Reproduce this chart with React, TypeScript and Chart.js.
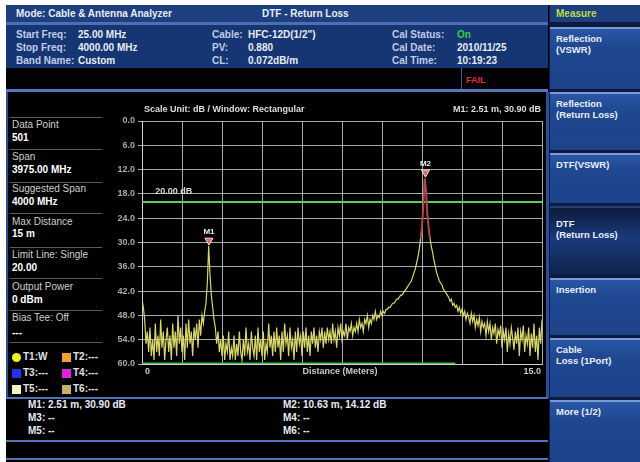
import React, { useEffect, useRef } from "react";
import { Chart, registerables } from "chart.js";

Chart.register(...registerables);

// ---------- DATA ----------
const DIST_STEP_M = 0.05; // trace sample spacing (m)
// Return loss trace (dB), 0.00 m .. 15.00 m
const RETURN_LOSS_DB = [
  44, 46, 49, 55, 52, 57,
  51, 58, 54, 59, 50, 57, 53, 58, 49, 56, 52, 59, 54, 51, 57,
  53, 59, 50, 56, 52, 58, 48, 55, 51, 57, 53, 59, 50, 56, 49, 55, 52, 58, 51, 54,
  50, 56, 49, 53, 48, 50, 47, 45, 40, 30.9, 38, 43, 46, 49, 51, 55, 52, 57, 54,
  58, 53, 59, 55, 57, 52, 59, 56, 58, 53, 59, 55, 58, 52, 57, 59, 54, 58, 51, 57, 55,
  59, 52, 56, 58, 53, 59, 51, 57, 54, 58, 52, 59, 55, 57, 50, 56, 53, 58, 52, 57,
  51, 56, 53, 59, 52, 57, 50, 55, 53, 58, 51, 56, 54, 59, 52, 57, 51, 55, 53, 58,
  52, 56, 51, 57, 53, 58, 52, 55, 51, 56, 53, 57, 52, 54, 51, 56, 52, 55, 51, 54,
  52, 55, 50, 54, 52, 56, 51, 53, 50, 54, 52, 53, 50, 54, 51, 52, 50, 53, 51, 52,
  50, 52, 49, 51, 50, 52, 49, 50, 48, 51, 49, 50, 48, 49, 47, 49, 48, 48.5, 47, 48,
  47, 47.5, 46.5, 46.5, 46, 46, 45.5, 45, 45, 44.5, 44, 44, 43.5, 43, 43, 42.5, 42, 41.5, 41, 40.5,
  40, 39.5, 38.5, 37.5, 36.5, 35, 33.5, 31.5, 29, 26, 21, 14.12,
  17, 23, 26.5, 29, 31, 32.5, 34.5, 36,
  37.5, 38.5, 39.5, 40, 40.5, 41.5, 42, 42.5, 43, 43.5, 44.5, 44, 45.5, 45, 46, 45.5, 47, 46, 47.5, 46.5,
  48, 47, 49, 47.5, 48.5, 50, 47.5, 49.5, 48, 51, 49, 50.5, 48.5, 52, 49.5, 51, 50, 53, 49.5, 52,
  50, 54, 51, 52.5, 50, 55, 51.5, 53, 50.5, 56, 52, 54, 51, 57, 52.5, 55, 51, 53.5, 56.5, 52,
  55, 51, 58, 52, 54, 50.5, 57, 53, 55, 51, 58, 52.5, 56, 50, 57, 53, 59, 51, 55, 49,
];
const X_MIN_M = 0;
const X_MAX_M = 15;
const Y_MIN_DB = 0;
const Y_MAX_DB = 60;
const Y_STEP_DB = 6;
const X_GRID_STEP_M = 1.5;
const LIMIT_DB = 20;
const SWEEP_END_M = 11.75;
const MARKER_NAMES = ["M1", "M2"];
const MARKER_DIST_M = [2.51, 10.63];
const MARKER_DB = [30.9, 14.12];

const LEFT_LABELS = ["Data Point", "Span", "Suggested Span", "Max Distance", "Limit Line: Single", "Output Power", "Bias Tee: Off"];
const LEFT_VALUES = ["501", "3975.00 MHz", "4000 MHz", "15 m", "20.00", "0 dBm", "---"];
const LEGEND_NAMES = ["T1:W", "T2:---", "T3:---", "T4:---", "T5:---", "T6:---"];
const LEGEND_COLORS = ["#f2f222", "#f0a032", "#2233f0", "#e022e0", "#f2f2c8", "#c8b064"];
const SOFTKEYS = ["Reflection\n(VSWR)", "Reflection\n(Return Loss)", "DTF(VSWR)", "DTF\n(Return Loss)", "Insertion", "Cable\nLoss (1Port)", "More (1/2)"];

const F = '"Liberation Sans", Arial, sans-serif';

function T(props: { x: number; y: number; c?: string; s?: number; b?: boolean; children: React.ReactNode }) {
  return (
    <div
      style={{
        position: "absolute",
        left: props.x,
        top: props.y - 6,
        height: 12,
        lineHeight: "12px",
        fontSize: props.s ?? 10,
        fontWeight: props.b === false ? 400 : 700,
        color: props.c ?? "#e8ecf4",
        fontFamily: F,
        whiteSpace: "pre",
      }}
    >
      {props.children}
    </div>
  );
}

function Box(props: { x: number; y: number; w: number; h: number; bg: string }) {
  return <div style={{ position: "absolute", left: props.x, top: props.y, width: props.w, height: props.h, background: props.bg }} />;
}

export default function App() {
  const ref = useRef<HTMLCanvasElement>(null);

  useEffect(() => {
    const canvas = ref.current!;
    const trace = RETURN_LOSS_DB.map((v, i) => ({ x: Math.round(i * DIST_STEP_M * 100) / 100, y: v }));

    const overlay = {
      id: "overlay",
      afterDatasetsDraw(chart: any) {
        const { ctx, chartArea, scales } = chart;
        const xs = scales.x;
        const ys = scales.y;
        ctx.save();
        ctx.font = `bold 9px ${F}`;
        ctx.textBaseline = "middle";
        ctx.fillStyle = "#d8d8d8";
        ctx.textAlign = "left";
        ctx.fillText(`${LIMIT_DB.toFixed(2)} dB`, xs.getPixelForValue(0.5), ys.getPixelForValue(LIMIT_DB) - 10);
        for (let i = 0; i < MARKER_NAMES.length; i++) {
          const px = xs.getPixelForValue(MARKER_DIST_M[i]);
          const py = ys.getPixelForValue(MARKER_DB[i]);
          ctx.beginPath();
          ctx.moveTo(px, py - 1);
          ctx.lineTo(px - 4, py - 8);
          ctx.lineTo(px + 4, py - 8);
          ctx.closePath();
          ctx.fillStyle = "#e06a6a";
          ctx.fill();
          ctx.strokeStyle = "#f4dada";
          ctx.lineWidth = 1;
          ctx.stroke();
          ctx.fillStyle = "#f0f0f0";
          ctx.textAlign = "center";
          ctx.font = `bold 8px ${F}`;
          ctx.fillText(MARKER_NAMES[i], px, py - 14);
          ctx.font = `bold 9px ${F}`;
        }
        ctx.fillStyle = "#dcdcdc";
        ctx.textAlign = "left";
        ctx.fillText("Scale Unit: dB / Window: Rectangular", chartArea.left + 2, chartArea.top - 11);
        ctx.textAlign = "right";
        ctx.fillText(
          `${MARKER_NAMES[0]}: ${MARKER_DIST_M[0].toFixed(2)} m, ${MARKER_DB[0].toFixed(2)} dB`,
          chartArea.right - 1,
          chartArea.top - 11
        );
        ctx.fillStyle = "#c8c8c8";
        ctx.textAlign = "left";
        ctx.fillText(String(X_MIN_M), chartArea.left + 3, chartArea.bottom + 8);
        ctx.textAlign = "right";
        ctx.fillText(X_MAX_M.toFixed(1), chartArea.right - 1, chartArea.bottom + 8);
        ctx.textAlign = "center";
        ctx.fillText("Distance (Meters)", (chartArea.left + chartArea.right) / 2 - 2, chartArea.bottom + 8);
        ctx.restore();
      },
    };

    const gridColor = "rgba(200,200,200,0.85)";
    const chart = new Chart(canvas, {
      type: "line",
      data: {
        datasets: [
          {
            label: "T1",
            data: trace,
            borderColor: "#d8d66a",
            borderWidth: 1.2,
            pointRadius: 0,
            tension: 0,
            segment: {
              borderColor: (c: any) =>
                c.p0.parsed.x > 9 && c.p0.parsed.y < 31 && c.p1.parsed.y < 31 ? "#b04446" : undefined,
              borderWidth: (c: any) =>
                c.p0.parsed.x > 9 && c.p0.parsed.y < 31 && c.p1.parsed.y < 31 ? 2 : undefined,
            },
          } as any,
          {
            label: "Limit",
            data: [
              { x: X_MIN_M, y: LIMIT_DB },
              { x: X_MAX_M, y: LIMIT_DB },
            ],
            borderColor: "#5fcf62",
            borderWidth: 2,
            pointRadius: 0,
          },
          {
            label: "Sweep",
            data: [
              { x: X_MIN_M, y: Y_MAX_DB },
              { x: SWEEP_END_M, y: Y_MAX_DB },
            ],
            borderColor: "#3fc046",
            borderWidth: 3,
            pointRadius: 0,
          },
        ],
      },
      options: {
        animation: false,
        responsive: false,
        maintainAspectRatio: false,
        events: [],
        layout: { padding: { top: 26, right: 6, left: 0, bottom: 0 } },
        plugins: { legend: { display: false }, tooltip: { enabled: false } },
        scales: {
          x: {
            type: "linear",
            min: X_MIN_M,
            max: X_MAX_M,
            ticks: { stepSize: X_GRID_STEP_M, display: false },
            grid: { color: gridColor, drawTicks: false },
            border: { color: "#d0d0d0" },
            afterFit: (s: any) => {
              s.height = 31;
            },
          },
          y: {
            type: "linear",
            min: Y_MIN_DB,
            max: Y_MAX_DB,
            reverse: true,
            ticks: {
              stepSize: Y_STEP_DB,
              color: "#a8a8a8",
              padding: 3,
              font: { size: 9, family: F, weight: "bold" },
              callback: (v: any) => Number(v).toFixed(1),
            },
            grid: { color: gridColor, tickLength: 4 },
            border: { color: "#d0d0d0" },
            afterFit: (s: any) => {
              s.width = 38;
            },
          },
        },
      },
      plugins: [overlay],
    } as any);
    return () => chart.destroy();
  }, []);

  const keyTops = [27, 92, 153, 206, 278, 338, 400];
  const keyBottoms = [89, 150, 203, 275, 335, 397, 462];

  return (
    <div style={{ position: "fixed", left: 0, top: 0, width: 640, height: 462, background: "#ffffff", overflow: "hidden", fontFamily: F }}>
      <Box x={6} y={5} w={634} h={457} bg="#000000" />
      <Box x={6} y={5} w={542} h={17} bg="#1d3f80" />
      <Box x={6} y={22} w={542} h={3} bg="#4d70b4" />
      <Box x={6} y={25} w={542} h={43} bg="#163673" />
      <Box x={6} y={68} w={542} h={21} bg="#020206" />
      <Box x={461} y={68} w={1} h={21} bg="#3a5a98" />
      <Box x={6} y={89} w={542} h={3} bg="#5677bb" />
      <T x={16} y={14}>Mode: Cable &amp; Antenna Analyzer</T>
      <T x={262} y={14}>DTF - Return Loss</T>
      <T x={16} y={35} c="#c0cde6">Start Freq:</T>
      <T x={78} y={35}>25.00 MHz</T>
      <T x={16} y={48} c="#c0cde6">Stop Freq:</T>
      <T x={78} y={48}>4000.00 MHz</T>
      <T x={16} y={61} c="#c0cde6">Band Name:</T>
      <T x={78} y={61}>Custom</T>
      <T x={212} y={35} c="#c0cde6">Cable:</T>
      <T x={248} y={35}>HFC-12D(1/2")</T>
      <T x={212} y={48} c="#c0cde6">PV:</T>
      <T x={248} y={48}>0.880</T>
      <T x={212} y={61} c="#c0cde6">CL:</T>
      <T x={248} y={61}>0.072dB/m</T>
      <T x={392} y={35} c="#c0cde6">Cal Status:</T>
      <T x={457} y={35} c="#2fd04a">On</T>
      <T x={392} y={48} c="#c0cde6">Cal Date:</T>
      <T x={457} y={48}>2010/11/25</T>
      <T x={392} y={61} c="#c0cde6">Cal Time:</T>
      <T x={457} y={61}>10:19:23</T>
      <T x={466} y={80} c="#e03030" s={9}>FAIL</T>

      <Box x={6} y={92} w={2} h={306} bg="#2b4f9a" />
      <Box x={546} y={92} w={3} h={306} bg="#2b4f9a" />
      {[117, 149, 182, 213, 247, 278, 310, 342].map((y, i) => (
        <Box key={i} x={10} y={y} w={92} h={1} bg="#5a5a5a" />
      ))}
      {LEFT_LABELS.map((l, i) => {
        const cy = [125, 157, 189, 222, 255, 287, 318][i];
        return <T key={l} x={12} y={cy} c="#cfcfcf" b={false}>{l}</T>;
      })}
      {LEFT_VALUES.map((v, i) => {
        const cy = [138, 170, 202, 234, 268, 300, 333][i];
        return <T key={i} x={12} y={cy} c="#ffffff">{v}</T>;
      })}
      {LEGEND_NAMES.map((n, i) => {
        const col = i % 2;
        const row = Math.floor(i / 2);
        const cy = [357, 373, 389][row];
        const x0 = col === 0 ? 12 : 62;
        return (
          <React.Fragment key={n}>
            <div
              style={{
                position: "absolute",
                left: x0,
                top: cy - 4,
                width: 9,
                height: 9,
                background: LEGEND_COLORS[i],
                borderRadius: i === 0 ? "50%" : 0,
              }}
            />
            <T x={x0 + 11} y={cy} c="#e0e0e0">{n}</T>
          </React.Fragment>
        );
      })}

      <canvas ref={ref} width={444} height={300} style={{ position: "absolute", left: 104, top: 95, width: 444, height: 300 }} />

      <Box x={6} y={397} w={542} h={2} bg="#4f72b8" />
      <Box x={6} y={440} w={542} h={2} bg="#4f72b8" />
      <Box x={6} y={458} w={542} h={2} bg="#4f72b8" />
      <T x={28} y={405}>{`${MARKER_NAMES[0]}: ${MARKER_DIST_M[0].toFixed(2)} m, ${MARKER_DB[0].toFixed(2)} dB`}</T>
      <T x={28} y={418}>M3: --</T>
      <T x={28} y={431}>M5: --</T>
      <T x={283} y={405}>{`${MARKER_NAMES[1]}: ${MARKER_DIST_M[1].toFixed(2)} m, ${MARKER_DB[1].toFixed(2)} dB`}</T>
      <T x={283} y={418}>M4: --</T>
      <T x={283} y={431}>M6: --</T>

      <Box x={549} y={5} w={91} h={457} bg="#0b1a3e" />
      <Box x={550} y={5} w={90} h={17} bg="#1d3f80" />
      <T x={556} y={14} c="#b8dc48">Measure</T>
      {SOFTKEYS.map((k, i) => {
        const sel = i === 3;
        const top = keyTops[i];
        const h = keyBottoms[i] - top;
        return (
          <React.Fragment key={i}>
            <div
              style={{
                position: "absolute",
                left: 550,
                top,
                width: 90,
                height: h,
                background: sel
                  ? "linear-gradient(#0c1a3c, #1a3a7c 45%, #10224c)"
                  : "linear-gradient(#2a56a6, #1f4891 30%, #1c438a)",
                borderTop: sel ? "2px solid #24407a" : "2px solid #7c9ad6",
                boxSizing: "border-box",
              }}
            />
            <div
              style={{
                position: "absolute",
                left: 556,
                top: top + (sel ? 12 : 6),
                fontSize: 9.5,
                fontWeight: 700,
                lineHeight: "11px",
                color: "#e8eefa",
                fontFamily: F,
                whiteSpace: "pre",
              }}
            >
              {k}
            </div>
          </React.Fragment>
        );
      })}
    </div>
  );
}
